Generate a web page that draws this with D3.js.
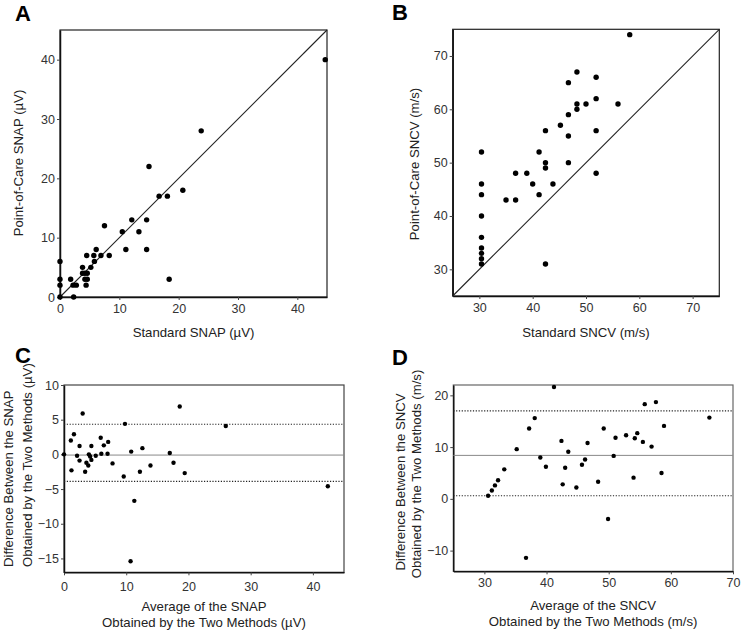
<!DOCTYPE html>
<html><head><meta charset="utf-8">
<script src="https://cdn.jsdelivr.net/npm/d3@7"></script>
<style>
body{margin:0;background:#fff;}
svg{display:block;font-family:"Liberation Sans",Arial,sans-serif;}
</style></head><body>
<svg id="c" width="743" height="633"></svg>
<script>
// Panel A: standard vs point-of-care SNAP (µV)
const snapStd = [0,0,0,0,1.8,2.2,2.75,2.3,3.8,3.8,4.2,4.6,4.2,4.6,4.4,4.5,5.2,5.7,6.1,5.8,6.9,8.3,7.5,10.5,13.3,11.1,14.6,12.1,14.6,15.0,16.7,18.1,20.7,23.8,44.7,18.4];
const snapPoc = [0,2,3,6,3,2,2,0,5,4,4,4,3,3,2,7,5,7,8,6,7,7,12,11,11,8,8,13,13,22,17,17,18,28,40,3];
// Panel B: standard vs point-of-care SNCV (m/s)
const sncvStd = [58.2,48.3,46.7,51.9,48.3,50,56,48.3,51.9,46.7,45.2,42.4,51.9,46.7,30.4,41.2,42.4,46.7,42.4,36.8,38.9,51.9,30.4,40,43.8,30.4,41.2,35,36.8,30.4,30.4,30.4,30.4,30.4,30.4,42.4];
const sncvPoc = [74,67,65,66,61,61,61,60,62,59,57,56,56,55,52,52,50,50,49,48,48,48,46,46,46,44,44,43,43,40,36,34,33,32,31,31];
// Panel C: Bland-Altman SNAP
const snapAvg = [0,1.1,1.6,1.2,3.0,2.1,2.5,2.5,3.4,3.6,3.9,4.0,4.2,4.4,4.4,5.1,5.9,6.0,6.4,7.0,7.1,7.8,9.8,9.6,10.8,10.7,11.3,12.2,12.6,13.9,17.0,17.6,18.6,19.4,26.0,42.4];
const snapDiff = [0,2.0,2.9,-2.3,5.9,-0.2,1.2,-0.9,-2.5,-1.2,-1.6,0,-0.3,-0.8,1.2,-0.2,2.4,0.1,1.3,0.1,1.8,-1.3,4.4,-3.2,0.4,-15.4,-6.7,-2.5,0.9,-1.6,0.2,-1.2,6.9,-2.7,4.1,-4.6];
const snapLimits = [-3.9, -0.1, 4.35]; // lower LoA, mean, upper LoA
// Panel D: Bland-Altman SNCV
const sncvAvg = [30.6,31.2,31.7,32.2,33.2,35.2,37.2,38.1,36.7,39.0,39.9,41.2,42.4,42.6,43.0,43.5,44.8,45.7,46.2,46.6,48.3,49.2,49.9,50.8,51.1,52.8,54.0,54.2,54.6,55.5,55.8,56.9,57.6,58.5,58.9,66.2];
const sncvDiff = [0.6,1.6,2.6,3.6,5.7,9.6,13.6,15.6,-11.4,8.0,6.2,21.6,11.2,2.8,6.0,9.1,2.2,6.6,7.6,10.8,3.3,13.6,-3.9,8.3,11.8,12.3,4.1,11.7,12.7,11.0,18.3,10.1,18.7,5.0,14.1,15.7];
const sncvLimits = [0.6, 8.4, 17.0];

const ticksA = [0,10,20,30,40];
const ticksB = [30,40,50,60,70];
const ticksCx = [0,10,20,30,40];
const ticksCy = [10,5,0,-5,-10,-15];
const ticksDx = [30,40,50,60,70];
const ticksDy = [20,10,0,-10];

const svg = d3.select("#c");

function panel(o){
  const g = svg.append("g");
  const x = d3.scaleLinear().domain(o.xd).range([o.x0,o.x1]);
  const y = d3.scaleLinear().domain(o.yd).range([o.y1,o.y0]);
  g.append("rect").attr("x",o.x0).attr("y",o.y0).attr("width",o.x1-o.x0).attr("height",o.y1-o.y0)
    .attr("fill","none").attr("stroke",o.frameColor||"#222").attr("stroke-width",1.2);
  const ax = g.append("g").attr("transform",`translate(0,${o.y1})`)
    .call(d3.axisBottom(x).tickValues(o.xt).tickSize(3).tickPadding(o.xpad||4).tickSizeOuter(0));
  const ay = g.append("g").attr("transform",`translate(${o.x0},0)`)
    .call(d3.axisLeft(y).tickValues(o.yt).tickSize(3).tickPadding(2).tickSizeOuter(0));
  [ax,ay].forEach(a=>{
    a.select(".domain").attr("stroke","#111").attr("stroke-width",1.5);
    a.selectAll(".tick line").attr("stroke","#444");
    a.selectAll("text").attr("font-size",12.5).attr("fill","#333").attr("font-family","Liberation Sans, Arial, sans-serif");
  });
  if(o.diag){
    g.append("line").attr("x1",x(o.xd[0])).attr("y1",y(o.yd[0])).attr("x2",x(o.xd[1])).attr("y2",y(o.yd[1]))
      .attr("stroke","#222").attr("stroke-width",1.1);
  }
  if(o.limits){
    const [lo,m,hi] = o.limits;
    g.append("line").attr("x1",o.x0).attr("x2",o.x1).attr("y1",y(m)).attr("y2",y(m))
      .attr("stroke","#888").attr("stroke-width",1);
    [lo,hi].forEach(v=>g.append("line").attr("x1",o.x0).attr("x2",o.x1).attr("y1",y(v)).attr("y2",y(v))
      .attr("stroke","#222").attr("stroke-width",1.1).attr("stroke-dasharray","1.2,1.6"));
  }
  g.selectAll("circle.pt").data(d3.range(o.xs.length)).join("circle")
    .attr("cx",i=>x(o.xs[i])).attr("cy",i=>y(o.ys[i])).attr("r",o.r).attr("fill","#000");
  g.append("text").attr("x",o.lx).attr("y",o.ly).attr("font-size",22).attr("font-weight","bold")
    .attr("fill","#000").text(o.letter);
  o.xtitle.forEach((t,i)=>g.append("text").attr("x",(o.x0+o.x1)/2+(o.xtdx||0)).attr("y",o.xty+i*16)
    .attr("text-anchor","middle").attr("font-size",13.2).attr("fill","#222").text(t));
  o.ytitle.forEach((t,i)=>g.append("text")
    .attr("transform",`translate(${o.ytx[i]},${o.yty[i]}) rotate(-90)`)
    .attr("text-anchor",o.yanchor||"middle").attr("font-size",13.2).attr("fill","#222").text(t));
}

panel({x0:60,x1:327,y0:30,y1:297,xd:[0,45],yd:[0,45],xt:ticksA,yt:ticksA,diag:true,
  xs:snapStd,ys:snapPoc,r:2.7,letter:"A",lx:15,ly:21,
  xtitle:["Standard SNAP (\u00b5V)"],xty:337,
  ytitle:["Point-of-Care SNAP  (\u00b5V)"],ytx:[23],yty:[163]});
panel({x0:452.7,x1:719.3,y0:29.3,y1:296,xd:[25,75],yd:[25,75],xt:ticksB,yt:ticksB,diag:true,
  xs:sncvStd,ys:sncvPoc,r:2.7,letter:"B",lx:392,ly:20,
  xtitle:["Standard SNCV (m/s)"],xty:337,
  ytitle:["Point-of-Care SNCV  (m/s)"],ytx:[419],yty:[164]});
panel({x0:64,x1:344,y0:385,y1:572.3,xd:[0,45],yd:[-17,10],xt:ticksCx,yt:ticksCy,xpad:7,
  limits:snapLimits,xs:snapAvg,ys:snapDiff,r:2.2,letter:"C",lx:15,ly:363,frameColor:"#444",
  xtitle:["Average of the SNAP","Obtained by the Two Methods (\u00b5V)"],xty:611,
  ytitle:["Difference Between the SNAP","Obtained by the Two Methods  (\u00b5V)"],ytx:[13,32],yty:[567,567],yanchor:"start"});
panel({x0:453.3,x1:733,y0:385,y1:571.3,xd:[25,70],yd:[-14,22],xt:ticksDx,yt:ticksDy,xpad:4,
  limits:sncvLimits,xs:sncvAvg,ys:sncvDiff,r:2.2,letter:"D",lx:392,ly:365,frameColor:"#666",
  xtitle:["Average of the SNCV","Obtained by the Two Methods (m/s)"],xty:610,
  ytitle:["Difference Between the SNCV","Obtained by the Two Methods (m/s)"],ytx:[405,421],yty:[482,474]});
</script>
</body></html>
